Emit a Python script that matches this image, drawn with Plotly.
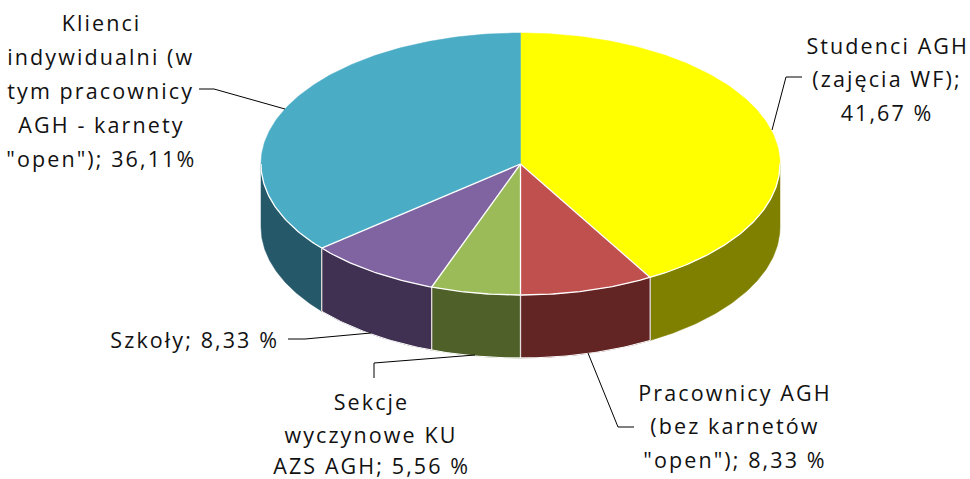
import numpy as np
import plotly.graph_objects as go

categories = ["Studenci AGH (zajęcia WF)", "Pracownicy AGH (bez karnetów \"open\")",
              "Sekcje wyczynowe KU AZS AGH", "Szkoły",
              "Klienci indywidualni (w tym pracownicy AGH - karnety \"open\")"]
values = [41.67, 8.33, 5.56, 8.33, 36.11]
top_colors = ["#FFFF00", "#C0504D", "#9BBB59", "#8064A2", "#4BACC6"]
side_colors = ["#808000", "#632523", "#4F6128", "#403152", "#25596A"]

CX, CY, RX, RY, DEPTH = 520.5, 164, 259.5, 131, 63
FONT = "Open Sans"
FS = 21.5


def pt(theta, dy=0):
    t = np.radians(theta)
    return CX + RX * np.sin(t), CY - RY * np.cos(t) + dy


total = sum(values)
edges = np.concatenate([[0], np.cumsum(values) / total * 360])
fig = go.Figure()

# side walls (only the front half of the disc shows)
for i in range(len(values)):
    a, b = max(edges[i], 90), min(edges[i + 1], 270)
    if a >= b:
        continue
    th = np.linspace(a, b, 80)
    x1, y1 = pt(th)
    x2, y2 = pt(th[::-1], DEPTH)
    fig.add_trace(go.Scatter(x=np.r_[x1, x2, x1[0]], y=np.r_[y1, y2, y1[0]], mode="lines",
                             fill="toself", fillcolor=side_colors[i],
                             line=dict(color=side_colors[i], width=0.5), hoverinfo="skip"))
# light vertical edges on the wall and bottom rim
for e in edges[1:-1]:
    if 90 < e < 270:
        x, y = pt(e)
        fig.add_trace(go.Scatter(x=[x, x], y=[y, y + DEPTH], mode="lines",
                                 line=dict(color="#E4DCDC", width=1.3), hoverinfo="skip"))
th = np.linspace(150, 230, 120)
xb, yb = pt(th, DEPTH)
fig.add_trace(go.Scatter(x=xb, y=yb, mode="lines", line=dict(color="#FFFFFF", width=1), hoverinfo="skip"))

# top faces
for i in range(len(values)):
    th = np.linspace(edges[i], edges[i + 1], 160)
    x, y = pt(th)
    fig.add_trace(go.Scatter(x=np.r_[CX, x, CX], y=np.r_[CY, y, CY], mode="lines",
                             fill="toself", fillcolor=top_colors[i],
                             line=dict(color=top_colors[i], width=0.5), name=categories[i],
                             hoverinfo="name"))
# white separators on the top face
for e in edges[1:-1]:
    x, y = pt(e)
    fig.add_trace(go.Scatter(x=[CX, x], y=[CY, y], mode="lines",
                             line=dict(color="#FFFFFF", width=1.3), hoverinfo="skip"))
th = np.linspace(90, 270, 240)
x, y = pt(th)
fig.add_trace(go.Scatter(x=x, y=y, mode="lines", line=dict(color="#FFFFFF", width=1.3), hoverinfo="skip"))

# leader lines
for lx, ly in [([199, 214, 285], [89, 89, 109]),
               ([772, 786, 802], [130, 77, 77]),
               ([588, 618, 634], [353, 427, 427]),
               ([475, 374, 374], [355, 363, 378]),
               ([288, 305, 371], [339, 339, 333])]:
    fig.add_trace(go.Scatter(x=lx, y=ly, mode="lines", line=dict(color="#000000", width=1), hoverinfo="skip"))

labels = [
    (101, [22, 56, 90, 124, 158], ["Klienci", "indywidualni (w", "tym pracownicy", "AGH - karnety", "\"open\"); 36,11%"]),
    (887, [45, 78, 112], ["Studenci AGH", "(zajęcia WF);", "41,67 %"]),
    (194, [339], ["Szkoły; 8,33 %"]),
    (371, [401, 434, 465], ["Sekcje", "wyczynowe KU", "AZS AGH; 5,56 %"]),
    (735, [392, 425, 459], ["Pracownicy AGH", "(bez karnetów", "\"open\"); 8,33 %"]),
]
ann = []
for cx, ys, lines in labels:
    for yy, t in zip(ys, lines):
        ann.append(dict(x=cx, y=yy, text=t, xref="x", yref="y", showarrow=False,
                        xanchor="center", yanchor="middle",
                        font=dict(family=FONT, size=FS, color="#111111")))

fig.update_layout(width=970, height=479, margin=dict(l=0, r=0, t=0, b=0), showlegend=False,
                  paper_bgcolor="#FFFFFF", plot_bgcolor="#FFFFFF", annotations=ann,
                  xaxis=dict(range=[0, 970], visible=False, fixedrange=True),
                  yaxis=dict(range=[479, 0], visible=False, fixedrange=True))
fig.write_html("out.html", config=dict(displayModeBar=False),
               post_script="document.body.style.margin='0';document.documentElement.style.overflow='hidden';"
                           "document.querySelectorAll('.annotation-text').forEach(function(t){t.style.letterSpacing='2.1px';});")
